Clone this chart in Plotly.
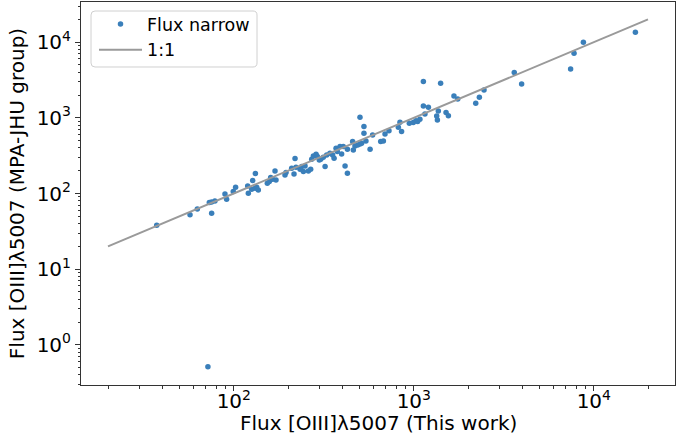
import plotly.graph_objects as go

# Flux [OIII]5007, this work (x) vs MPA-JHU (y)
flux_this_work = [
    37.3, 57.1, 62.7, 73.1, 75.3, 78.5, 75.3, 89.3, 91.2, 99.3,
    102.3, 120.4, 119.4, 125.7, 127.3, 131.8, 131.3, 134.0, 136.8, 153.5,
    157.5, 160.2, 164.3, 169.4, 171.5, 192.4, 195.0, 209.6, 216.0, 218.8,
    221.6, 233.4, 238.4, 243.4, 248.7, 259.5, 267.3, 270.8, 276.7, 286.4,
    291.1, 298.5, 304.0, 314.1, 321.4, 328.1, 342.0, 354.0, 360.6, 369.8,
    375.8, 389.0, 397.2, 405.5, 414.9, 427.6, 427.6, 457.1, 461.3, 471.0,
    487.5, 502.3, 502.3, 512.9, 528.4, 528.4, 542.0, 571.5, 590.2, 654.6,
    677.6, 691.8, 727.8, 820.4, 837.5, 855.1, 944.1, 993.1, 1028, 1050,
    1081, 1130, 1153, 1205, 1340, 1352, 1368, 1409, 1130, 1510,
    1556, 1671, 1754, 2208, 2313, 2455, 3614, 3971, 7430, 7762,
    8750, 17020, 71.8,
]
flux_mpa_jhu = [
    38.1, 52.2, 62.6, 75.9, 77.4, 79.8, 54.9, 98.8, 84.0, 106.1,
    121.1, 100.9, 126.0, 113.8, 148.2, 183.3, 117.3, 121.1, 111.6, 136.8,
    143.9, 162.3, 154.3, 198.7, 151.2, 176.2, 189.2, 215.9, 181.6, 289.3,
    222.4, 209.4, 227.0, 195.0, 231.7, 198.7, 209.4, 283.8, 314.1, 330.4,
    307.6, 278.0, 283.8, 301.3, 227.0, 323.6, 340.4, 323.6, 292.4, 396.3,
    358.1, 416.9, 333.4, 416.9, 231.7, 185.4, 384.6, 485.3, 376.7, 425.6,
    438.5, 1016, 451.9, 461.3, 765.6, 625.2, 495.5, 384.6, 594.3, 485.3,
    495.5, 612.4, 677.6, 749.9, 873.0, 657.7, 847.2, 864.9, 918.3, 891.3,
    957.2, 1435, 1125, 1380, 1059, 937.6, 1233, 2864, 3013, 1172,
    1069, 1945, 1778, 1556, 1871, 2337, 3960, 2806, 4428, 7130,
    9950, 13490, 0.514,
]
one_to_one = [20, 20000]

x_tickvals = [100, 1000, 10000]
x_ticktext = ["10<sup>2</sup>", "10<sup>3</sup>", "10<sup>4</sup>"]
y_tickvals = [1, 10, 100, 1000, 10000]
y_ticktext = ["10<sup>0</sup>", "10<sup>1</sup>", "10<sup>2</sup>", "10<sup>3</sup>", "10<sup>4</sup>"]

FONT = "DejaVu Sans"

# plot-area geometry (pixels) used to place legend frame / titles
L, R, T, B = 81, 675, 2, 385
W, H = R - L, B - T


def px(x):
    return (x - L) / W


def py(y):
    return (B - y) / H


fig = go.Figure()
fig.add_trace(go.Scatter(
    x=flux_this_work, y=flux_mpa_jhu, mode="markers", name="Flux narrow",
    marker=dict(color="#3a7fba", size=5.5, line=dict(width=0)),
))
fig.add_trace(go.Scatter(
    x=one_to_one, y=one_to_one, mode="lines", name="1:1",
    line=dict(color="#9a9a9a", width=2),
))

axis_common = dict(
    type="log", showgrid=False, zeroline=False,
    showline=True, linecolor="#333333", linewidth=1, mirror=True,
    ticks="outside", ticklen=5, tickwidth=1, tickcolor="#333333",
    tickfont=dict(family=FONT, size=20, color="black"),
    minor=dict(ticks="outside", ticklen=2.5, tickwidth=0.8, tickcolor="#333333", dtick="D1", showgrid=False),
)

# rounded legend frame
x0, x1, y0, y1 = 91, 257, 11, 67
r = 4
frame_path = (
    f"M{x0 + r},{y0} L{x1 - r},{y0} Q{x1},{y0} {x1},{y0 + r} "
    f"L{x1},{y1 - r} Q{x1},{y1} {x1 - r},{y1} "
    f"L{x0 + r},{y1} Q{x0},{y1} {x0},{y1 - r} "
    f"L{x0},{y0 + r} Q{x0},{y0} {x0 + r},{y0} Z"
)


def to_paper_path(p):
    out = []
    for tok in p.split(" "):
        if "," in tok:
            cmd = tok[0] if tok[0].isalpha() else ""
            a, b = tok.lstrip("MLQZ").split(",")
            out.append(f"{cmd}{px(float(a)):.5f},{py(float(b)):.5f}")
        else:
            out.append(tok)
    return " ".join(out)


fig.update_layout(
    width=691, height=445,
    margin=dict(l=L, r=691 - R, t=T, b=445 - B),
    paper_bgcolor="white", plot_bgcolor="white",
    font=dict(family=FONT, color="black"),
    showlegend=True,
    legend=dict(
        x=px(94), y=py(6), xanchor="left", yanchor="top",
        bgcolor="rgba(0,0,0,0)", borderwidth=0,
        font=dict(family=FONT, size=17.5, color="black"),
        tracegroupgap=0, itemwidth=43,
    ),
    shapes=[dict(
        type="path", xref="paper", yref="paper", path=to_paper_path(frame_path),
        fillcolor="rgba(255,255,255,0.8)", line=dict(color="#d0d0d0", width=1), layer="above",
    )],
    xaxis=dict(
        axis_common, range=[1.151, 4.451],
        tickvals=x_tickvals, ticktext=x_ticktext,
        ticklabelstandoff=-7,
    ),
    yaxis=dict(
        axis_common, range=[-0.531, 4.531],
        tickvals=y_tickvals, ticktext=y_ticktext,
        title=dict(text="Flux [OIII]λ5007 (MPA-JHU group)", font=dict(family=FONT, size=20), standoff=6),
    ),
    annotations=[dict(
        text="Flux [OIII]λ5007 (This work)", xref="paper", yref="paper",
        x=0.5, y=py(423), xanchor="center", yanchor="middle", showarrow=False,
        font=dict(family=FONT, size=20, color="black"),
    )],
)

fig.write_html("out.html")
